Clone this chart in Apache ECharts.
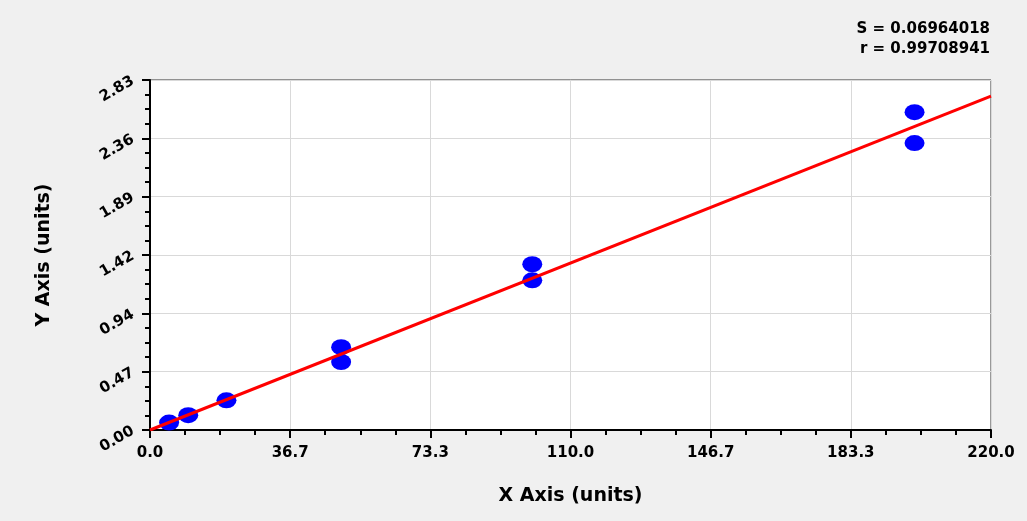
<!DOCTYPE html>
<html>
<head>
<meta charset="utf-8">
<script src="https://cdn.jsdelivr.net/npm/echarts@6/dist/echarts.min.js"></script>
<style>
html,body{margin:0;padding:0;background:#f0f0f0;}
#chart{width:1027px;height:521px;}
</style>
</head>
<body>
<div id="chart"></div>
<script>
// Data
const pointX = [5, 10, 20, 50, 50, 100, 100, 200, 200];
const pointY = [0.06, 0.12, 0.24, 0.67, 0.55, 1.34, 1.21, 2.57, 2.32];
const fitX = [0, 220];
const fitY = [0.0, 2.70];
const yTickLabels = ['0.00', '0.47', '0.94', '1.42', '1.89', '2.36', '2.83'];
const xTickLabels = ['0.0', '36.7', '73.3', '110.0', '146.7', '183.3', '220.0'];
const statsLines = ['S = 0.06964018', 'r = 0.99708941'];
const xName = 'X Axis (units)';
const yName = 'Y Axis (units)';

const xMax = 220, yMax = 2.83;
const xInt = xMax / 6, yInt = yMax / 6;

const chart = echarts.init(document.getElementById('chart'));
const font = '"DejaVu Sans", Verdana, sans-serif';

chart.setOption({
  backgroundColor: '#f0f0f0',
  animation: false,
  grid: {
    left: 150, right: 36, top: 80, bottom: 91,
    show: true, backgroundColor: '#ffffff', borderColor: '#333', borderWidth: 1
  },
  graphic: statsLines.map((t, i) => ({
    type: 'text', right: 37, top: 22 + i * 20,
    style: { text: t, font: 'bold 15px ' + font, fill: '#000', textAlign: 'right' }
  })),
  xAxis: {
    type: 'value', min: 0, max: xMax, interval: xInt,
    name: xName, nameLocation: 'middle', nameGap: 57,
    nameTextStyle: { fontFamily: font, fontWeight: 'bold', fontSize: 19, color: '#000' },
    axisLine: { show: true, onZero: false, lineStyle: { color: '#000', width: 2 } },
    axisTick: { show: true, length: 8, lineStyle: { color: '#000', width: 2 } },
    minorTick: { show: true, splitNumber: 4, length: 5, lineStyle: { color: '#000', width: 2 } },
    axisLabel: {
      margin: 16, fontFamily: font, fontWeight: 'bold', fontSize: 15, color: '#000',
      formatter: v => xTickLabels[Math.round(v / xInt)]
    },
    splitLine: { show: true, lineStyle: { color: '#d9d9d9', width: 1 } }
  },
  yAxis: {
    type: 'value', min: 0, max: yMax, interval: yInt,
    name: yName, nameLocation: 'middle', nameGap: 96,
    nameTextStyle: { fontFamily: font, fontWeight: 'bold', fontSize: 19, color: '#000' },
    axisLine: { show: true, onZero: false, lineStyle: { color: '#000', width: 2 } },
    axisTick: { show: true, length: 8, lineStyle: { color: '#000', width: 2 } },
    minorTick: { show: true, splitNumber: 4, length: 5, lineStyle: { color: '#000', width: 2 } },
    axisLabel: {
      margin: 17, rotate: 30, fontFamily: font, fontWeight: 'bold', fontSize: 15, color: '#000',
      formatter: v => yTickLabels[Math.round(v / yInt)]
    },
    splitLine: { show: true, lineStyle: { color: '#d9d9d9', width: 1 } }
  },
  series: [
    {
      type: 'scatter', symbol: 'circle', symbolSize: [20, 16],
      itemStyle: { color: '#0000ff', opacity: 1 },
      data: pointX.map((x, i) => [x, pointY[i]]), z: 2
    },
    {
      type: 'line', showSymbol: false, symbol: 'none',
      lineStyle: { color: '#ff0000', width: 3 },
      data: fitX.map((x, i) => [x, fitY[i]]), z: 3
    }
  ]
});
</script>
</body>
</html>
